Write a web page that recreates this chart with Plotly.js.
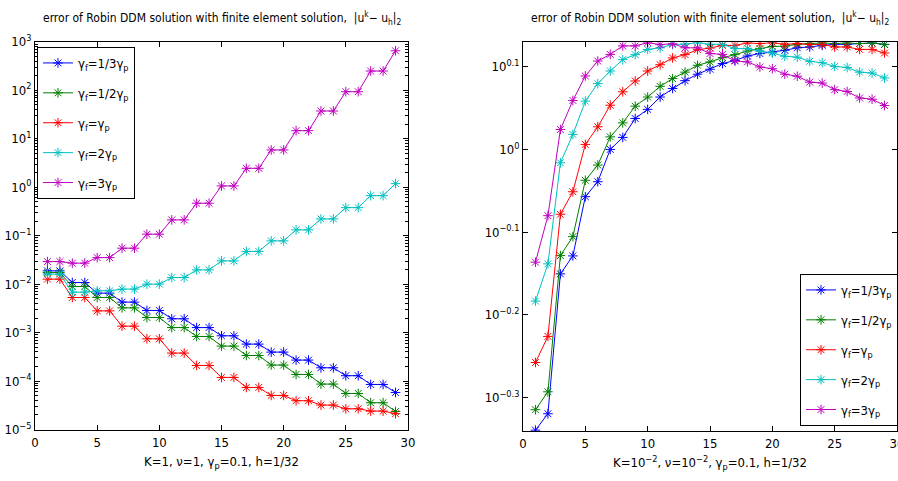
<!DOCTYPE html>
<html>
<head>
<meta charset="utf-8">
<script src="https://cdn.plot.ly/plotly-3.0.1.min.js"></script>
<style>html,body{margin:0;padding:0;background:#fff;}#chart{width:898px;height:481px;}</style>
</head>
<body>
<div id="chart"></div>
<script>
// iterations
const iters = [1,2,3,4,5,6,7,8,9,10,11,12,13,14,15,16,17,18,19,20,21,22,23,24,25,26,27,28,29];

// legend labels
const seriesNames = [
  "γ<sub>f</sub>=1/3γ<sub>p</sub>",
  "γ<sub>f</sub>=1/2γ<sub>p</sub>",
  "γ<sub>f</sub>=γ<sub>p</sub>",
  "γ<sub>f</sub>=2γ<sub>p</sub>",
  "γ<sub>f</sub>=3γ<sub>p</sub>"
];

// Left panel: K=1, nu=1
const leftThird = [0.0188,0.0188,0.0108,0.0108,0.00652,0.00652,0.00426,0.00426,0.00286,0.00286,0.00193,0.00193,0.00127,0.00127,0.000859,0.000859,0.000579,0.000579,0.000396,0.000396,0.000271,0.000271,0.000188,0.000188,0.000129,0.000129,0.0000851,0.0000851,0.0000582];
const leftHalf = [0.01734,0.01734,0.00893,0.00893,0.0053,0.0053,0.00324,0.00324,0.00205,0.00205,0.00127,0.00127,0.000832,0.000832,0.000527,0.000527,0.000337,0.000337,0.000214,0.000214,0.000137,0.000137,0.0000867,0.0000867,0.0000555,0.0000555,0.0000357,0.0000357,0.0000236];
const leftOne = [0.01268,0.01268,0.0053,0.0053,0.00281,0.00281,0.00136,0.00136,0.000745,0.000745,0.000378,0.000378,0.00021,0.00021,0.000119,0.000119,0.0000738,0.0000738,0.0000505,0.0000505,0.0000393,0.0000393,0.000032,0.000032,0.0000268,0.0000268,0.000024,0.000024,0.0000212];
const leftTwo = [0.01607,0.01607,0.00684,0.00684,0.00728,0.00728,0.00789,0.00789,0.01,0.01,0.01368,0.01368,0.0197,0.0197,0.0302,0.0302,0.0474,0.0474,0.0782,0.0782,0.132,0.132,0.222,0.222,0.379,0.379,0.671,0.671,1.186];
const leftThree = [0.0292,0.0292,0.0271,0.0271,0.0353,0.0353,0.0552,0.0552,0.1074,0.1074,0.212,0.212,0.468,0.468,1.064,1.064,2.46,2.46,5.88,5.88,14.7,14.7,37.4,37.4,93.6,93.6,250,250,655];

// Right panel: K=1e-2, nu=1e-2
const rightThird = [0.4576,0.479,0.7071,0.7434,0.8767,0.914,1.0,1.034,1.09,1.118,1.157,1.185,1.211,1.233,1.25,1.27,1.281,1.297,1.306,1.311,1.318,1.327,1.33,1.336,1.34,1.34,1.343,1.345,1.339];
const rightHalf = [0.4844,0.5092,0.744,0.7844,0.9176,0.9574,1.0356,1.0767,1.128,1.157,1.192,1.218,1.24,1.264,1.276,1.291,1.302,1.315,1.324,1.332,1.333,1.34,1.343,1.345,1.343,1.345,1.343,1.345,1.34];
const rightOne = [0.5525,0.5941,0.8348,0.8888,1.014,1.065,1.131,1.174,1.21,1.244,1.266,1.29,1.302,1.32,1.326,1.336,1.336,1.345,1.343,1.346,1.34,1.343,1.339,1.34,1.33,1.33,1.321,1.321,1.308];
const rightTwo = [0.6555,0.7271,0.9635,1.0426,1.144,1.201,1.244,1.284,1.302,1.321,1.327,1.339,1.341,1.346,1.34,1.34,1.324,1.324,1.315,1.308,1.296,1.293,1.278,1.273,1.26,1.256,1.24,1.237,1.22];
const rightThree = [0.7305,0.8315,1.057,1.146,1.227,1.279,1.303,1.334,1.334,1.346,1.339,1.342,1.327,1.327,1.306,1.303,1.279,1.276,1.258,1.252,1.233,1.226,1.206,1.203,1.181,1.175,1.154,1.15,1.13];

// tick labels
const xTicks = [0,5,10,15,20,25,30];
const leftYTickVals = [1e-5,1e-4,1e-3,1e-2,1e-1,1,10,100,1000];
const leftYTickText = ["10<sup>−5</sup>","10<sup>−4</sup>","10<sup>−3</sup>","10<sup>−2</sup>","10<sup>−1</sup>","10<sup>0</sup>","10<sup>1</sup>","10<sup>2</sup>","10<sup>3</sup>"];
const rightYExps = [-0.3,-0.2,-0.1,0,0.1];
const rightYTickText = ["10<sup>−0.3</sup>","10<sup>−0.2</sup>","10<sup>−0.1</sup>","10<sup>0</sup>","10<sup>0.1</sup>"];

const colors = ["#0000ff","#008000","#ff0000","#00bfbf","#bf00bf"];
const FONT = "'Liberation Sans Narrow','DejaVu Sans Condensed','Liberation Sans',Arial,sans-serif";

const leftSeries = [leftThird,leftHalf,leftOne,leftTwo,leftThree];
const rightSeries = [rightThird,rightHalf,rightOne,rightTwo,rightThree];

function mk(y, i, xa, ya, leg, grp) {
  return {
    x: iters, y: y, xaxis: xa, yaxis: ya, legend: leg, legendgroup: grp,
    name: seriesNames[i], type: 'scatter', mode: 'lines+markers',
    line: {color: colors[i], width: 1},
    marker: {symbol: 'asterisk-open', size: 8, color: colors[i], line: {color: colors[i], width: 1}}
  };
}
const data = [];
leftSeries.forEach((s,i)=>data.push(mk(s,i,'x','y','legend','L'+i)));
rightSeries.forEach((s,i)=>data.push(mk(s,i,'x2','y2','legend2','R'+i)));

const axBase = {
  showline: true, linecolor: '#000', linewidth: 1, mirror: 'allticks',
  ticks: 'inside', ticklen: 5, tickcolor: '#000', showgrid: false, zeroline: false,
  ticklabeloverflow: 'allow',
  tickfont: {family: FONT, size: 13, color: '#000'}
};

const layout = {
  width: 898, height: 481,
  margin: {l:0, r:0, t:0, b:0},
  paper_bgcolor: '#fff', plot_bgcolor: '#fff',
  font: {family: FONT, size: 12, color: '#000'},
  xaxis: Object.assign({}, axBase, {
    domain: [0.039, 0.4543], range: [0,30], tickvals: xTicks, anchor: 'y',
    title: {text: "K=1, ν=1, γ<sub>p</sub>=0.1, h=1/32", font: {family: FONT, size: 13}, standoff: 8}
  }),
  yaxis: Object.assign({}, axBase, {
    domain: [0.106, 0.913], type: 'log', range: [-5.01, 3.0], anchor: 'x',
    tickvals: leftYTickVals, ticktext: leftYTickText,
    minor: {ticks: 'inside', ticklen: 3, tickcolor: '#000', dtick: 'D1', showgrid: false}
  }),
  xaxis2: Object.assign({}, axBase, {
    domain: [0.5824, 0.9989], range: [0,30], tickvals: xTicks, anchor: 'y2',
    title: {text: "K=10<sup>−2</sup>, ν=10<sup>−2</sup>, γ<sub>p</sub>=0.1, h=1/32", font: {family: FONT, size: 13}, standoff: 8}
  }),
  yaxis2: Object.assign({}, axBase, {
    domain: [0.104, 0.912], type: 'log', range: [-0.3405, 0.1295], anchor: 'x2',
    tickvals: rightYExps.map(e=>Math.pow(10,e)), ticktext: rightYTickText
  }),
  legend: {
    x: 0.0412, y: 0.9023, xanchor: 'left', yanchor: 'top',
    bgcolor: '#fff', bordercolor: '#000', borderwidth: 1,
    font: {family: FONT, size: 13}, tracegroupgap: 10, itemwidth: 30
  },
  legend2: {
    x: 0.891, y: 0.4304, xanchor: 'left', yanchor: 'top',
    bgcolor: '#fff', bordercolor: '#000', borderwidth: 1,
    font: {family: FONT, size: 13}, tracegroupgap: 10, itemwidth: 30
  },
  annotations: [
    {xref: 'paper', yref: 'paper', x: 0.2467, y: 0.962, xanchor: 'center', yanchor: 'middle', showarrow: false,
     text: "error of Robin DDM solution with finite element solution,  |u<sup>k</sup>− u<sub>h</sub>|<sub>2</sub>",
     font: {family: FONT, size: 12, color: '#000'}},
    {xref: 'paper', yref: 'paper', x: 0.7906, y: 0.962, xanchor: 'center', yanchor: 'middle', showarrow: false,
     text: "error of Robin DDM solution with finite element solution,  |u<sup>k</sup>− u<sub>h</sub>|<sub>2</sub>",
     font: {family: FONT, size: 12, color: '#000'}}
  ],
  showlegend: true
};

Plotly.newPlot('chart', data, layout, {displayModeBar: false, staticPlot: true});
</script>
</body>
</html>
